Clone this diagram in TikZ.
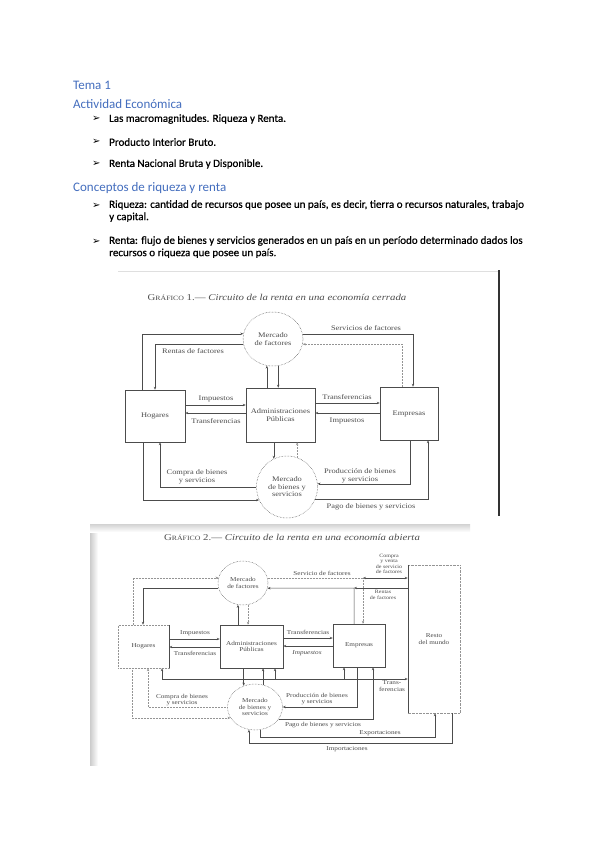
\documentclass[tikz,border=0pt]{standalone}
\usepackage{fontspec}
\setmainfont{Carlito}
\newfontfamily\bodyfont[FakeBold=0.6]{Carlito}
\newfontfamily\scanfont[FakeStretch=1.2]{Liberation Serif}
\newfontfamily\symfont{DejaVu Sans}
\usetikzlibrary{arrows.meta,shapes.geometric}
\definecolor{headblue}{RGB}{68,110,190}
\definecolor{scanink}{gray}{0.3}
\tikzset{
heading/.style={anchor=west,inner sep=0pt,text=headblue,font=\fontsize{13}{15}\selectfont},
bullettip/.style={anchor=west,inner sep=0pt,font=\symfont\fontsize{10}{10}\selectfont},
itemtext/.style={anchor=west,inner sep=0pt,font=\bodyfont\fontsize{11}{12.3}\selectfont},
box/.style={draw=scanink,line width=.5pt,inner sep=1pt,text=scanink,align=center},
market/.style={draw=scanink,ellipse,densely dotted,line width=.5pt,inner sep=0pt,text=scanink,align=center},
flow/.style={arrows={-Stealth[length=3pt,width=2.4pt]},draw=scanink,line width=.5pt},
twoway/.style={arrows={Stealth[length=3pt,width=2.4pt]-Stealth[length=3pt,width=2.4pt]},draw=scanink,line width=.5pt},
faint/.style={draw=scanink!60,densely dotted},
lbl/.style={inner sep=0pt,text=scanink,align=center},
graftitle/.style={inner sep=0pt,text=scanink,font=\scanfont\fontsize{9}{10}\selectfont}
}

\begin{document}
\begin{tikzpicture}[x=1pt,y=-1pt]
\fill[white](0,0) rectangle (599,848);
\useasboundingbox (0,0) rectangle (599,848);
\node[heading](tema) at (73,85){Tema 1};
\node[heading](actividad) at (73,104){Actividad Económica};
\node[bullettip](p1) at (92,119){➢};
\node[itemtext](macro) at (109,119){Las macromagnitudes. Riqueza y Renta.};
\node[bullettip](p2) at (92,142){➢};
\node[itemtext](pib) at (109,142){Producto Interior Bruto.};
\node[bullettip](p3) at (92,164){➢};
\node[itemtext](rnb) at (109,164){Renta Nacional Bruta y Disponible.};
\node[heading](conceptos) at (73,188){Conceptos de riqueza y renta};
\node[bullettip](p4) at (92,206){➢};
\node[itemtext,anchor=north west,align=left](riqueza) at (109,200){Riqueza: cantidad de recursos que posee un país, es decir, tierra o recursos naturales, trabajo\\y capital.};
\node[bullettip](p5) at (92,242){➢};
\node[itemtext,anchor=north west,align=left](renta) at (109,236){Renta: flujo de bienes y servicios generados en un país en un período determinado dados los\\recursos o riqueza que posee un país.};

\begin{scope}[font=\scanfont\fontsize{7}{7.5}\selectfont]
\draw[gray!25,line width=1pt](118,271) -- (499,271);
\draw[black!80,line width=1.3pt](499,270) -- (499,516);
\node[graftitle](tit1) at (277,297){G{\fontsize{6.5}{7}\selectfont RÁFICO} 1.— \textit{Circuito de la renta en una economía cerrada}};
\node[market,minimum width=60pt,minimum height=54pt](mf1) at (273,339){Mercado\\de factores};
\node[box,minimum width=60pt,minimum height=52pt](hog1) at (155,416){Hogares};
\node[box,minimum width=69pt,minimum height=54pt](adm1) at (280.5,415){Administraciones\\Públicas};
\node[box,minimum width=58pt,minimum height=53pt](emp1) at (409,413.5){Empresas};
\node[market,minimum width=61pt,minimum height=62pt](mb1) at (287,487){Mercado\\de bienes y\\servicios};
\draw[flow](142,0 |- hog1.north) |- (mf1.170);
\draw[flow](mf1.190) -| (155,0 |- hog1.north);
\draw[flow](mf1.10) -| (413,0 |- emp1.north);
\draw[flow,faint](402,0 |- emp1.north) |- (mf1.350);
\draw[flow](mf1.257 |- adm1.north) -- (mf1.257);
\draw[flow](mf1.281) -- (mf1.281 |- adm1.north);
\draw[flow](hog1.east |- 0,405) -- (adm1.west |- 0,405);\draw[flow](adm1.west |- 0,413) -- (hog1.east |- 0,413);
\draw[flow](adm1.east |- 0,403) -- (emp1.west |- 0,403);\draw[flow](emp1.west |- 0,413) -- (adm1.east |- 0,413);
\draw[flow](mb1.115 |- adm1.south) -- (mb1.115);
\draw[flow,faint](mb1.71) -- (mb1.71 |- adm1.south);
\draw[flow](mb1.west) -| (160,0 |- hog1.south);
\draw[flow](143,0 |- hog1.south) |- (mb1.205);
\draw[flow](410,0 |- emp1.south) |- (mb1.6);
\draw[flow](mb1.337) -| (428,0 |- emp1.south);
\node[lbl](rf1) at (193,351){Rentas de factores};
\node[lbl](sf1) at (366,328){Servicios de factores};
\node[lbl](imp1a) at (216,399){Impuestos};
\node[lbl](tr1a) at (216,421){Transferencias};
\node[lbl](tr1b) at (347,397){Transferencias};
\node[lbl](imp1b) at (347,421){Impuestos};
\node[lbl](cb1) at (197,477){Compra de bienes\\y servicios};
\node[lbl](pb1) at (360,476){Producción de bienes\\y servicios};
\node[lbl](pg1) at (371,507){Pago de bienes y servicios};
\end{scope}

\begin{scope}[font=\scanfont\fontsize{6}{6.5}\selectfont]
\fill[left color=gray!40,right color=white](90,524) rectangle (98,765);
\fill[top color=gray!35,bottom color=white](90,524) rectangle (470,532);
\node[graftitle](tit2) at (292,537){G{\fontsize{6.5}{7}\selectfont RÁFICO} 2.— \textit{Circuito de la renta en una economía abierta}};
\node[market,minimum width=50pt,minimum height=44pt](mf2) at (243,583){Mercado\\de factores};
\node[box,faint,minimum width=51pt,minimum height=43pt](hog2) at (143.5,646.5){Hogares};
\draw[scanink,line width=.5pt](hog2.north east) -- (hog2.south east);
\node[box,minimum width=63pt,minimum height=43pt](adm2) at (251.5,646.5){Administraciones\\Públicas};
\node[box,minimum width=52pt,minimum height=43pt](emp2) at (359,645.5){Empresas};
\node[box,draw=none,minimum width=52pt,minimum height=148pt](rdm2) at (434,639){Resto\\del mundo};
\draw[faint](rdm2.north west) -- (rdm2.north east) -- (rdm2.south east) -- (rdm2.south west);
\draw[scanink,line width=.5pt](rdm2.north west) -- (rdm2.south west);
\node[market,minimum width=55pt,minimum height=46pt](mb2) at (255,707){Mercado\\de bienes y\\servicios};
\coordinate(jsf) at (363,578);
\coordinate(jrf) at (354,588);
\coordinate(jt1) at (275,679);
\coordinate(jt2) at (344,679);
\draw[flow,faint](133,0 |- hog2.north) |- (mf2.168);
\draw[flow](mf2.192) -| (143,0 |- hog2.north);
\draw[flow](mf2.257 |- adm2.north) -- (mf2.257);
\draw[flow,faint](mf2.283) -- (mf2.283 |- adm2.north);
\draw[flow,faint](mf2.12) -| (jsf |- emp2.north);
\draw[twoway](jsf) -- (rdm2.west |- jsf);
\draw[flow](jrf |- emp2.north) -- (jrf) -- (mf2.348);
\draw[flow](rdm2.west |- jrf) -- (jrf);
\draw[flow](hog2.east |- 0,639) -- (adm2.west |- 0,639);\draw[flow](adm2.west |- 0,647) -- (hog2.east |- 0,647);
\draw[flow](adm2.east |- 0,638) -- (emp2.west |- 0,638);\draw[flow](emp2.west |- 0,646) -- (adm2.east |- 0,646);
\draw[twoway](162,0 |- hog2.south) |- (rdm2.west |- jt1);
\draw[flow](jt1) -- (jt1 |- adm2.south);\draw[flow](jt2) -- (jt2 |- emp2.south);
\draw[flow](mb2.118 |- adm2.south) -- (mb2.118);
\draw[flow](mb2.70) -- (mb2.70 |- adm2.south);
\draw[flow,faint](mb2.west) -| (148,0 |- hog2.south);
\draw[flow,faint](132,0 |- hog2.south) |- (mb2.204);
\draw[flow](357,0 |- emp2.south) |- (mb2.east);
\draw[flow](mb2.333) -| (373,0 |- emp2.south);
\draw[flow](mb2.282) |- (435,737) -- (435,0 |- rdm2.south);
\draw[flow](452,0 |- rdm2.south) -- (452,743) -| (mb2.255);
\node[lbl](sf2) at (322,573){Servicio de factores};
\node[lbl,font=\scanfont\fontsize{5}{5.3}\selectfont](cv2) at (389,564){Compra\\y venta\\de servicio\\de factores};
\node[lbl,font=\scanfont\fontsize{5}{5.3}\selectfont](rf2) at (383,595){Rentas\\de factores};
\node[lbl](imp2a) at (195,633){Impuestos};
\node[lbl](tr2a) at (195,653){Transferencias};
\node[lbl](tr2b) at (308,632){Transferencias};
\node[lbl](imp2b) at (307,653){\textit{Impuestos}};
\node[lbl](tf2) at (392,686){Trans-\\ferencias};
\node[lbl](cb2) at (182,700){Compra de bienes\\y servicios};
\node[lbl](pb2) at (317,699){Producción de bienes\\y servicios};
\node[lbl](pg2) at (323,725){Pago de bienes y servicios};
\node[lbl](exp2) at (380,733){Exportaciones};
\node[lbl](imp2) at (347,749){Importaciones};
\end{scope}
\end{tikzpicture}
\end{document}
